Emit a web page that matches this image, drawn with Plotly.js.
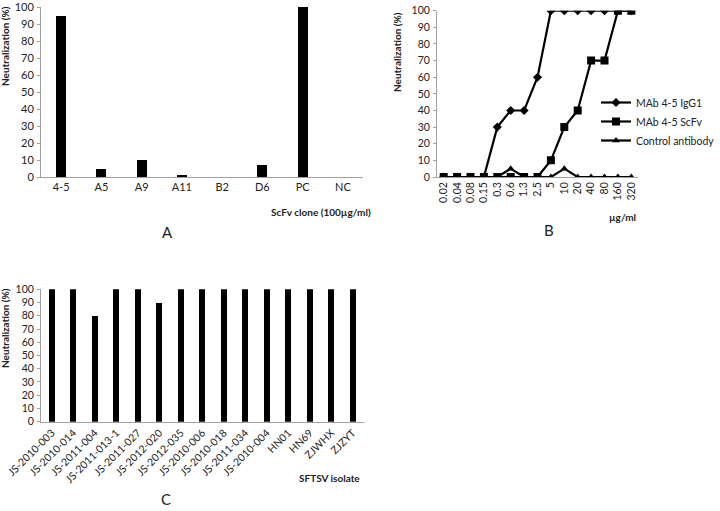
<!DOCTYPE html>
<html>
<head>
<meta charset="utf-8">
<script src="https://cdn.plot.ly/plotly-3.0.1.min.js"></script>
<style>html,body{margin:0;padding:0;background:#fff;}#chart{width:720px;height:511px;}</style>
</head>
<body>
<div id="chart"></div>
<script>
// Panel A: ScFv clones
const clonesA = ["4-5", "A5", "A9", "A11", "B2", "D6", "PC", "NC"];
const neutA = [95, 5, 10, 1, 0, 7, 100, 0];

// Panel B: dose response
const concB = ["0.02", "0.04", "0.08", "0.15", "0.3", "0.6", "1.3", "2.5", "5", "10", "20", "40", "80", "160", "320"];
const igg1B = [0, 0, 0, 0, 30, 40, 40, 60, 100, 100, 100, 100, 100, 100, 100];
const scfvB = [0, 0, 0, 0, 0, 0, 0, 0, 10, 30, 40, 70, 70, 100, 100];
const ctrlB = [0, 0, 0, 0, 0, 5, 0, 0, 0, 5, 0, 0, 0, 0, 0];

// Panel C: SFTSV isolates
const isolatesC = ["JS-2010-003", "JS-2010-014", "JS-2011-004", "JS-2011-013-1", "JS-2011-027", "JS-2012-020", "JS-2012-035", "JS-2010-006", "JS-2010-018", "JS-2011-034", "JS-2010-004", "HN01", "HN69", "ZJWHX", "ZJZYT"];
const neutC = [100, 100, 80, 100, 100, 90, 100, 100, 100, 100, 100, 100, 100, 100, 100];

const yTicks = [0, 10, 20, 30, 40, 50, 60, 70, 80, 90, 100];

const W = 720, H = 511;
const px = x => x / W;
const py = y => 1 - y / H;

const FONT = "Lato, 'Open Sans', sans-serif";
const TXT = "#222";
const AX = "#a0a0a0";

const data = [
  {type: "bar", x: clonesA, y: neutA, xaxis: "x", yaxis: "y", width: 0.25,
   marker: {color: "#000", line: {width: 0}}, showlegend: false},
  {type: "scatter", mode: "lines+markers", name: "MAb 4-5 IgG1", x: concB, y: igg1B, xaxis: "x2", yaxis: "y2",
   line: {color: "#000", width: 2.2}, marker: {symbol: "diamond", size: 7, color: "#000"}},
  {type: "scatter", mode: "lines+markers", name: "MAb 4-5 ScFv", x: concB, y: scfvB, xaxis: "x2", yaxis: "y2",
   line: {color: "#000", width: 2.2}, marker: {symbol: "square", size: 8, color: "#000"}},
  {type: "scatter", mode: "lines+markers", name: "Control antibody", x: concB, y: ctrlB, xaxis: "x2", yaxis: "y2",
   line: {color: "#000", width: 2.2}, marker: {symbol: "triangle-up", size: 7, color: "#000"}},
  {type: "bar", x: isolatesC, y: neutC, xaxis: "x3", yaxis: "y3", width: 0.28,
   marker: {color: "#000", line: {width: 0}}, showlegend: false}
];

function yax(domain, anchor, fs) {
  return {domain: domain, anchor: anchor, range: [0, 100], tickmode: "array", tickvals: yTicks, showgrid: false, zeroline: false,
    showline: true, linecolor: AX, linewidth: 1, ticks: "outside", ticklen: 3, tickwidth: 1, tickcolor: AX,
    ticklabelstandoff: 1, ticklabeloverflow: "allow",
    tickfont: {family: FONT, size: fs, color: TXT}, fixedrange: true};
}
function xax(domain, anchor, cats, extra) {
  return Object.assign({domain: domain, anchor: anchor, type: "category", categoryorder: "array", categoryarray: cats,
    tickmode: "array", tickvals: cats, ticktext: cats,
    range: [-0.5, cats.length - 0.5], showgrid: false, zeroline: false, showline: true, linecolor: AX, linewidth: 1,
    ticks: "", ticklabeloverflow: "allow", fixedrange: true}, extra || {});
}

function ann(text, x, y, opts) {
  return Object.assign({text: text, x: px(x), y: py(y), xref: "paper", yref: "paper", xanchor: "center", yanchor: "middle",
    showarrow: false, font: {family: FONT, size: 10, color: TXT}}, opts || {});
}

const layout = {
  width: W, height: H,
  margin: {l: 0, r: 0, t: 0, b: 0},
  paper_bgcolor: "#fff", plot_bgcolor: "#fff",
  font: {family: FONT, color: TXT},
  bargap: 0,
  xaxis: xax([px(41), px(363)], "y", clonesA, {tickangle: 0, tickfont: {family: FONT, size: 11, color: TXT}}),
  yaxis: yax([py(177), py(7)], "x", 11),
  xaxis2: xax([px(437), px(638)], "y2", concB, {tickangle: -90, tickfont: {family: FONT, size: 10.5, color: TXT}}),
  yaxis2: yax([py(177), py(10.7)], "x2", 10.5),
  xaxis3: xax([px(41), px(363.5)], "y3", isolatesC, {tickangle: -45, tickfont: {family: FONT, size: 10.5, color: TXT}}),
  yaxis3: yax([py(421.7), py(289.3)], "x3", 10.5),
  showlegend: true,
  legend: {x: 1, y: py(88), xanchor: "right", yanchor: "top", bgcolor: "rgba(0,0,0,0)",
    font: {family: FONT, size: 10.5, color: TXT}, itemwidth: 30, tracegroupgap: 0},
  annotations: [
    ann("<b>Neutralization (%)</b>", 5, 46, {textangle: -90}),
    ann("<b>ScFv clone (100µg/ml)</b>", 373, 212, {xanchor: "right"}),
    ann("A", 167, 232, {font: {family: FONT, size: 15, color: TXT}}),
    ann("<b>Neutralization (%)</b>", 397, 52, {textangle: -90}),
    ann("<b>µg/ml</b>", 638, 217, {xanchor: "right"}),
    ann("B", 549, 230, {font: {family: FONT, size: 15, color: TXT}}),
    ann("<b>Neutralization (%)</b>", 5, 328, {textangle: -90}),
    ann("<b>SFTSV isolate</b>", 362, 478, {xanchor: "right"}),
    ann("C", 166, 499, {font: {family: FONT, size: 15, color: TXT}})
  ]
};

Plotly.newPlot("chart", data, layout, {displayModeBar: false, staticPlot: true});
</script>
</body>
</html>
